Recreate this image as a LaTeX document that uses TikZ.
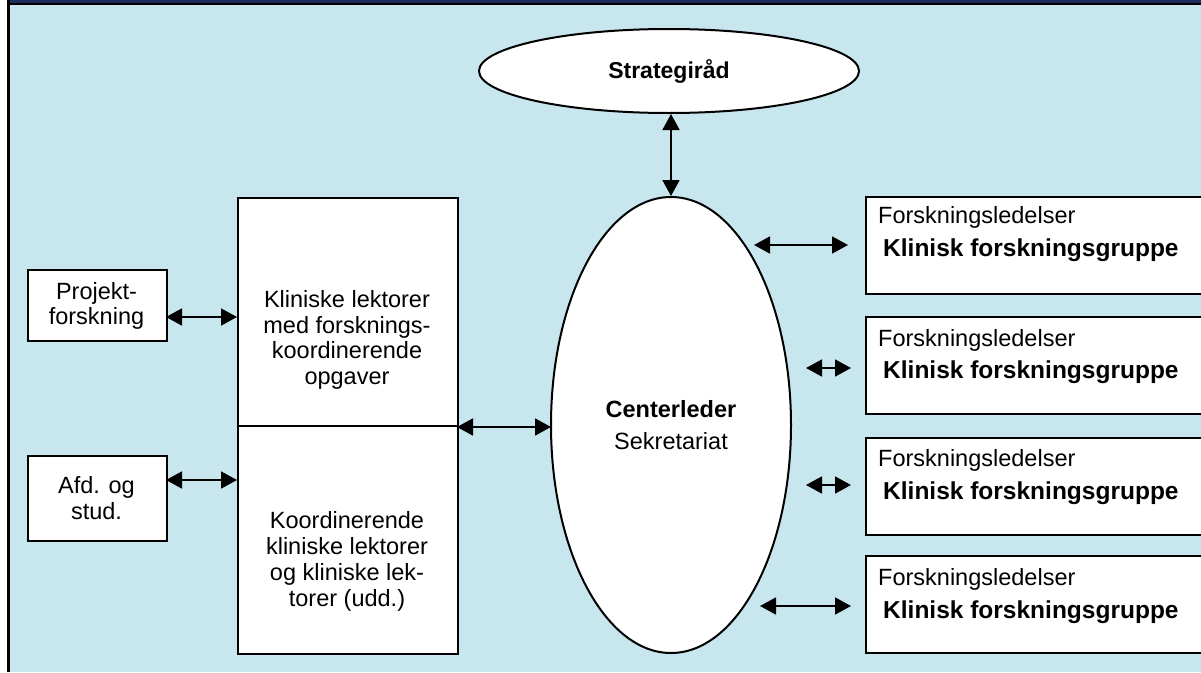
\documentclass[tikz,border=0pt]{standalone}
\usepackage{fontspec}
\setmainfont{Liberation Sans}
\usetikzlibrary{arrows.meta,shapes.geometric}
\definecolor{panel}{HTML}{C8E6EE}
\definecolor{titlebar}{HTML}{1F2A5E}
\begin{document}
\begin{tikzpicture}[x=1pt,y=-1pt,
  every node/.style={font=\fontsize{23.5}{25.8}\selectfont, inner sep=0pt},
  box/.style={draw=black, line width=2pt, fill=white, anchor=north west},
  oval/.style={ellipse, draw=black, line width=2pt, fill=white},
  arr/.style={{Triangle[length=16pt,width=17pt]}-{Triangle[length=16pt,width=17pt]}, line width=1.8pt},
  txt/.style={align=center},
  lbl/.style={anchor=west}]
\useasboundingbox (0,0) rectangle (1201,672);
\clip (0,0) rectangle (1201,672);

% panel background, title strip and frame
\fill[white] (0,0) rectangle (1201,672);
\fill[panel] (8,4) rectangle (1201,672);
\fill[titlebar] (8,0) rectangle (1201,3.5);
\draw[line width=2pt] (8,4) -- (1201,4);
\draw[line width=3pt] (8,0) -- (8,672);

% top council and centre management
\node[oval, minimum width=380, minimum height=84, font=\fontsize{23}{25.8}\selectfont\bfseries] (strat) at (669,71) {Strategiråd};
\node[oval, minimum width=240, minimum height=456, txt] (center) at (671,425)
  {\textbf{Centerleder}\\[7pt]Sekretariat};

% clinical lecturers column
\node[box, minimum width=220, minimum height=228] (kltop) at (237,197) {};
\node[box, minimum width=220, minimum height=228] (klbot) at (237,425) {};
\node[txt] (kltoptxt) at (347,340) {Kliniske lektorer\\med forsknings-\\koordinerende\\opgaver};
\node[txt] (klbottxt) at (347,561.5) {Koordinerende\\kliniske lektorer\\og kliniske lek-\\torer (udd.)};

% small boxes on the left
\node[box, minimum width=139, minimum height=71, txt] (proj) at (27,269) {};
\node[txt] (projtxt) at (96.5,306) {Projekt-\\forskning};
\node[box, minimum width=139, minimum height=85, txt] (afd) at (27,455) {};
\node[txt] (afdtxt) at (96.5,498) {Afd. og\\stud.};

% research groups on the right
\foreach \i/\y in {1/196,2/316,3/437,4/555}{
  \node[box, minimum width=360, minimum height=97] (r\i) at (865,\y) {};
}
\foreach \i/\a/\b in {1/217/250,2/340/372,3/460/493,4/579/612}{
  \node[lbl] (r\i a) at (878,\a) {Forskningsledelser};
  \node[lbl, font=\fontsize{24.5}{26}\selectfont\bfseries] (r\i b) at (883,\b) {Klinisk forskningsgruppe};
}

% connectors
\draw[arr] (center.north |- strat.south) -- (center.north);
\coordinate (pj) at (166,317);
\draw[arr] (pj) -- (kltop.west |- pj);
\coordinate (af) at (166,480);
\draw[arr] (af) -- (klbot.west |- af);
\coordinate (mid) at (457,427);
\draw[arr] (mid) -- (551,427);
\coordinate (c1) at (754,245);
\draw[arr] (c1) -- ([xshift=-17pt]r1.west |- c1);
\coordinate (c2) at (806,368);
\draw[arr] (c2) -- ([xshift=-14pt]r2.west |- c2);
\coordinate (c3) at (806,485);
\draw[arr] (c3) -- ([xshift=-14pt]r3.west |- c3);
\coordinate (c4) at (760,606);
\draw[arr] (c4) -- ([xshift=-14pt]r4.west |- c4);
\end{tikzpicture}
\end{document}
